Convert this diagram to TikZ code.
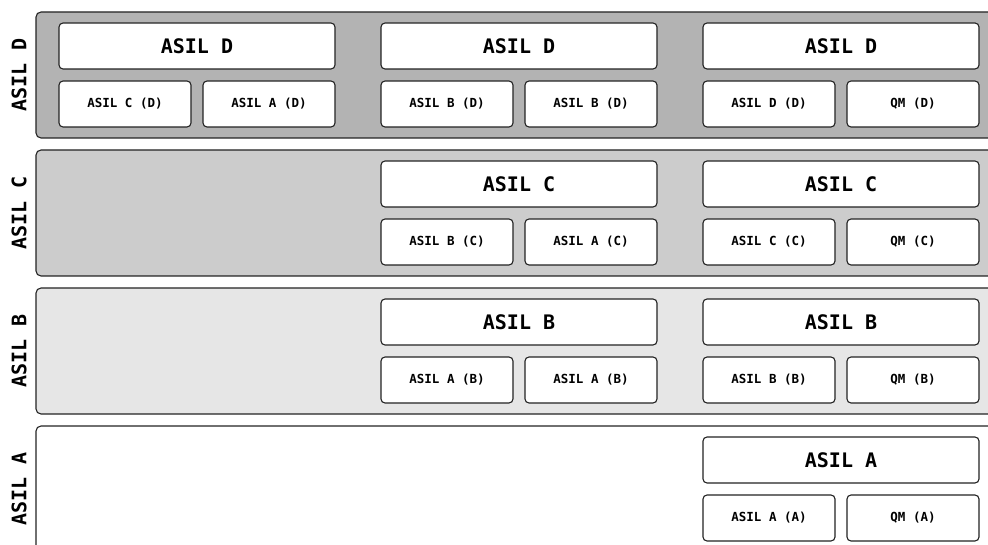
\documentclass[tikz,border=0pt]{standalone}
\usepackage{fontspec}
\setmonofont{DejaVu Sans Mono}
\usepackage{tikz}
\usetikzlibrary{positioning,calc}
\definecolor{BandD}{RGB}{179,179,179}
\definecolor{BandC}{RGB}{204,204,204}
\definecolor{BandB}{RGB}{230,230,230}
\definecolor{EdgeGray}{RGB}{35,35,35}
\tikzset{band/.style={draw=EdgeGray,line width=1.1pt,rounded corners=5pt},
  bigbox/.style={draw=EdgeGray,fill=white,line width=1.1pt,rounded corners=4pt,minimum width=276pt,minimum height=46pt,inner sep=0pt,font=\fontsize{20}{22}\selectfont\ttfamily\bfseries},
  smallbox/.style={draw=EdgeGray,fill=white,line width=1.1pt,rounded corners=4pt,minimum width=132pt,minimum height=46pt,inner sep=0pt,font=\fontsize{12.5}{14}\selectfont\ttfamily\bfseries},
  side/.style={rotate=90,inner sep=0pt,font=\fontsize{20}{22}\selectfont\ttfamily\bfseries}}

\begin{document}
\begin{tikzpicture}[x=1pt,y=-1pt]
\useasboundingbox (0,0) rectangle (988,545);
\clip (0,0) rectangle (988,545);
% bands
\draw[band,fill=BandD] (36,12) rectangle (1000,138);
\draw[band,fill=BandC] (36,150) rectangle (1000,276);
\draw[band,fill=BandB] (36,288) rectangle (1000,414);
\draw[band,fill=white] (36,426) rectangle (1000,552);
\node[side] (labD) at (19,75) {ASIL D};
\node[side] (labC) at (19,213) {ASIL C};
\node[side] (labB) at (19,351) {ASIL B};
\node[side] (labA) at (19,489) {ASIL A};
% ASIL D row
\node[bigbox] (d1) at (197,46) {ASIL D};
\node[bigbox] (d2) at (519,46) {ASIL D};
\node[bigbox] (d3) at (841,46) {ASIL D};
\node[smallbox] (d1a) at (125,104) {ASIL C (D)};
\node[smallbox] (d1b) at (269,104) {ASIL A (D)};
\node[smallbox] (d2a) at (447,104) {ASIL B (D)};
\node[smallbox] (d2b) at (591,104) {ASIL B (D)};
\node[smallbox] (d3a) at (769,104) {ASIL D (D)};
\node[smallbox] (d3b) at (913,104) {QM (D)};
% ASIL C row
\node[bigbox] (c2) at (519,184) {ASIL C};
\node[bigbox] (c3) at (841,184) {ASIL C};
\node[smallbox] (c2a) at (447,242) {ASIL B (C)};
\node[smallbox] (c2b) at (591,242) {ASIL A (C)};
\node[smallbox] (c3a) at (769,242) {ASIL C (C)};
\node[smallbox] (c3b) at (913,242) {QM (C)};
% ASIL B row
\node[bigbox] (b2) at (519,322) {ASIL B};
\node[bigbox] (b3) at (841,322) {ASIL B};
\node[smallbox] (b2a) at (447,380) {ASIL A (B)};
\node[smallbox] (b2b) at (591,380) {ASIL A (B)};
\node[smallbox] (b3a) at (769,380) {ASIL B (B)};
\node[smallbox] (b3b) at (913,380) {QM (B)};
% ASIL A row
\node[bigbox] (a3) at (841,460) {ASIL A};
\node[smallbox] (a3a) at (769,518) {ASIL A (A)};
\node[smallbox] (a3b) at (913,518) {QM (A)};
\end{tikzpicture}
\end{document}
